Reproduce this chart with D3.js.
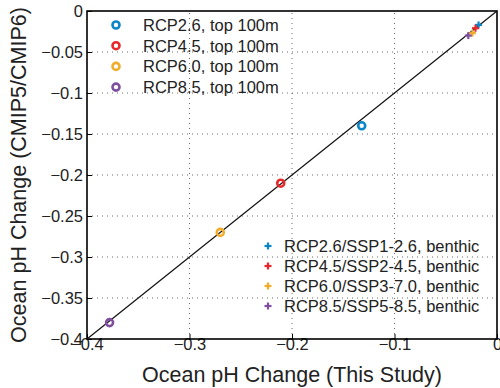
<!DOCTYPE html>
<html>
<head>
<meta charset="utf-8">
<script src="https://cdn.jsdelivr.net/npm/d3@7"></script>
<style>
  body { margin: 0; background: #fff; }
  text { font-family: "Liberation Sans", Arial, Helvetica, sans-serif; fill: #222; }
</style>
</head>
<body>
<svg id="chart" width="500" height="388"></svg>
<script>
// Scenario names and colours
const scenarios = ["RCP2.6", "RCP4.5", "RCP6.0", "RCP8.5"];
const benthicNames = ["RCP2.6/SSP1-2.6", "RCP4.5/SSP2-4.5", "RCP6.0/SSP3-7.0", "RCP8.5/SSP5-8.5"];
const colors = ["#0a86c8", "#e8272b", "#f0ac2a", "#7f4f9f"];

// Top 100 m pH change: this study vs CMIP5/CMIP6
const surfaceStudy = [-0.132, -0.211, -0.270, -0.378];
const surfaceModel = [-0.140, -0.210, -0.270, -0.380];

// Benthic pH change: this study vs CMIP5/CMIP6
const benthicStudy = [-0.018, -0.021, -0.024, -0.028];
const benthicModel = [-0.017, -0.021, -0.027, -0.030];

const tickValues = [-0.4, -0.35, -0.3, -0.25, -0.2, -0.15, -0.1, -0.05, 0];
const xTickValues = [-0.4, -0.3, -0.2, -0.1, 0];

const svg = d3.select("#chart");
const m = { left: 87, right: 3, top: 11, bottom: 49 };
const W = 500, H = 388;

const x = d3.scaleLinear().domain([-0.4, 0]).range([m.left, W - m.right]);
const y = d3.scaleLinear().domain([-0.4, 0]).range([H - m.bottom, m.top]);

const fmt = v => v === 0 ? "0" : d3.format("")(v).replace("-", "\u2212");

// dotted grid
const grid = svg.append("g");
grid.selectAll(".gx").data(xTickValues.filter(v => v > -0.4 && v < 0)).join("line")
  .attr("x1", d => x(d)).attr("x2", d => x(d))
  .attr("y1", y(-0.4)).attr("y2", y(0))
  .attr("stroke", "#444").attr("stroke-width", 0.8).attr("stroke-dasharray", "1,4");
grid.selectAll(".gy").data(tickValues.filter(v => v > -0.4 && v < 0)).join("line")
  .attr("y1", d => y(d)).attr("y2", d => y(d))
  .attr("x1", x(-0.4)).attr("x2", x(0))
  .attr("stroke", "#444").attr("stroke-width", 0.8).attr("stroke-dasharray", "1,4");

// axes
const xAxis = d3.axisBottom(x).tickValues(xTickValues).tickFormat(fmt).tickSizeInner(-5).tickSizeOuter(0).tickPadding(3);
const yAxis = d3.axisLeft(y).tickValues(tickValues).tickFormat(fmt).tickSizeInner(-5).tickSizeOuter(0).tickPadding(4);

const gx = svg.append("g").attr("transform", `translate(0,${y(-0.4)})`).call(xAxis);
const gy = svg.append("g").attr("transform", `translate(${x(-0.4)},0)`).call(yAxis);
[gx, gy].forEach(g => {
  g.select(".domain").remove();
  g.selectAll(".tick line").attr("stroke", "#000").attr("stroke-width", 1);
  g.selectAll(".tick text").attr("font-size", 16.5).attr("fill", "#222")
    .style("font-family", "'Liberation Sans', Arial, sans-serif");
});
gx.selectAll(".tick text").attr("dy", "0.5em");

// box
svg.append("rect")
  .attr("x", x(-0.4)).attr("y", y(0))
  .attr("width", x(0) - x(-0.4)).attr("height", y(-0.4) - y(0))
  .attr("fill", "none").attr("stroke", "#000").attr("stroke-width", 1.6);

// 1:1 line
svg.append("line")
  .attr("x1", x(-0.4)).attr("y1", y(-0.4)).attr("x2", x(0)).attr("y2", y(0))
  .attr("stroke", "#111").attr("stroke-width", 1.3);

// top 100 m circles
svg.append("g").selectAll("circle").data(scenarios).join("circle")
  .attr("cx", (d, i) => x(surfaceStudy[i]))
  .attr("cy", (d, i) => y(surfaceModel[i]))
  .attr("r", 3.5)
  .attr("fill", "none")
  .attr("stroke", (d, i) => colors[i])
  .attr("stroke-width", 2.6);

// benthic crosses
const cross = (g, cx, cy, s, c) => {
  g.append("line").attr("x1", cx - s).attr("x2", cx + s).attr("y1", cy).attr("y2", cy)
    .attr("stroke", c).attr("stroke-width", 2.2);
  g.append("line").attr("x1", cx).attr("x2", cx).attr("y1", cy - s).attr("y2", cy + s)
    .attr("stroke", c).attr("stroke-width", 2.2);
};
const bg = svg.append("g");
benthicNames.forEach((d, i) => cross(bg, x(benthicStudy[i]), y(benthicModel[i]), 3.5, colors[i]));

// legend: top 100 m
const leg1 = svg.append("g");
scenarios.forEach((d, i) => {
  const yy = 25 + i * 20.7;
  leg1.append("circle").attr("cx", 116).attr("cy", yy).attr("r", 3.5)
    .attr("fill", "none").attr("stroke", colors[i]).attr("stroke-width", 2.6);
  leg1.append("text").attr("x", 143).attr("y", yy).attr("dy", "0.36em")
    .attr("font-size", 16.5).text(`${d}, top 100m`);
});

// legend: benthic
const leg2 = svg.append("g");
benthicNames.forEach((d, i) => {
  const yy = 246 + i * 20;
  cross(leg2, 268, yy, 3.5, colors[i]);
  leg2.append("text").attr("x", 284).attr("y", yy).attr("dy", "0.36em")
    .attr("font-size", 16.5).text(`${d}, benthic`);
});

// axis titles
svg.append("text").attr("x", (x(-0.4) + x(0)) / 2).attr("y", 382)
  .attr("text-anchor", "middle").attr("font-size", 21.5).text("Ocean pH Change (This Study)");
svg.append("text").attr("transform", `translate(26,${(y(-0.4) + y(0)) / 2}) rotate(-90)`)
  .attr("text-anchor", "middle").attr("font-size", 21.5).text("Ocean pH Change (CMIP5/CMIP6)");
</script>
</body>
</html>
